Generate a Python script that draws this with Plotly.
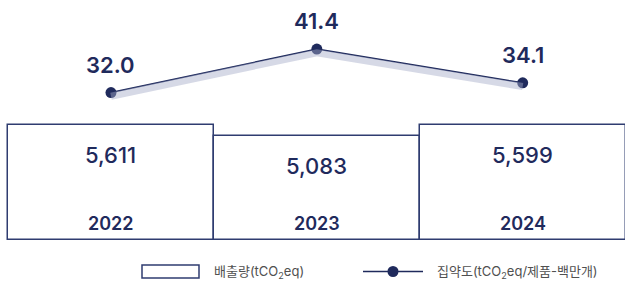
import plotly.graph_objects as go

years = ["2022", "2023", "2024"]
emissions = [5611, 5083, 5599]
intensity = [32.0, 41.4, 34.1]
emission_labels = ["5,611", "5,083", "5,599"]
intensity_labels = ["32.0", "41.4", "34.1"]
legend_bar = "배출량(tCO<sub>2</sub>eq)"
legend_line = "집약도(tCO<sub>2</sub>eq/제품-백만개)"

W, H = 625, 283
ML, MR, MT, MB = 6, 0, 0, 43
PW, PH = W - ML - MR, H - MT - MB

NAVY = "#1f2a5c"
OUTLINE = "#2f3c70"
FONT = "Inter, Noto Sans CJK KR, sans-serif"

def px_x(p):
    return (p - ML) / PW

def px_y(p):
    return (H - MB - p) / PH

fig = go.Figure()
fig.add_trace(go.Bar(
    x=years, y=emissions, marker=dict(color="white", line=dict(color=OUTLINE, width=1.5)),
    showlegend=False, hoverinfo="skip"))
# soft shadow band under the line
fig.add_trace(go.Scatter(
    x=years, y=intensity, yaxis="y3", mode="lines",
    line=dict(color="rgba(165,170,200,0.45)", width=7), showlegend=False, hoverinfo="skip"))
fig.add_trace(go.Scatter(
    x=years, y=intensity, yaxis="y2", mode="lines+markers",
    line=dict(color=NAVY, width=1.5), marker=dict(color=NAVY, size=11),
    showlegend=False))

ann = []
for i, (v, t) in enumerate(zip(intensity, intensity_labels)):
    ann.append(dict(x=i, y=v, xref="x", yref="y2", text=t, showarrow=False,
                    yshift=28, font=dict(family=FONT, size=22, color=NAVY, weight=600)))
for i, (v, t) in enumerate(zip(emissions, emission_labels)):
    ann.append(dict(x=i, y=v, xref="x", yref="y", text=t, showarrow=False, yshift=-30,
                    font=dict(family=FONT, size=22, color=NAVY, weight=500)))
for i, yr in enumerate(years):
    ann.append(dict(x=i, y=0, xref="x", yref="y", text=yr, showarrow=False,
                    yshift=16.5, font=dict(family=FONT, size=18, color=NAVY, weight=600)))
ann.append(dict(x=px_x(212), y=px_y(271.5), xref="paper", yref="paper", text=legend_bar,
                showarrow=False, xanchor="left", yanchor="middle",
                font=dict(family=FONT, size=13, color="#505050")))
ann.append(dict(x=px_x(435), y=px_y(271.5), xref="paper", yref="paper", text=legend_line,
                showarrow=False, xanchor="left", yanchor="middle",
                font=dict(family=FONT, size=13, color="#505050")))

shapes = [
    dict(type="rect", xref="paper", yref="paper", x0=px_x(142), x1=px_x(199),
         y0=px_y(265), y1=px_y(278), line=dict(color=OUTLINE, width=1.5), fillcolor="white"),
    dict(type="line", xref="paper", yref="paper", x0=px_x(363), x1=px_x(423),
         y0=px_y(271.5), y1=px_y(271.5), line=dict(color=NAVY, width=1.5)),
    dict(type="circle", xref="paper", yref="paper", x0=px_x(387.5), x1=px_x(398.5),
         y0=px_y(266), y1=px_y(277), line=dict(color=NAVY, width=0), fillcolor=NAVY),
]

hidden = dict(showticklabels=False, showgrid=False, zeroline=False, showline=False, ticks="")
fig.update_layout(
    width=W, height=H, margin=dict(l=ML, r=MR, t=MT, b=MB),
    paper_bgcolor="white", plot_bgcolor="white", bargap=0,
    xaxis=dict(type="category", range=[-0.51, 2.497], **hidden),
    yaxis=dict(range=[0, 11710], **hidden),
    yaxis2=dict(range=[0.13, 52.0], overlaying="y", **hidden),
    yaxis3=dict(range=[0.13 + 0.8, 52.0 + 0.8], overlaying="y", **hidden),
    annotations=ann, shapes=shapes, showlegend=False,
)
fig.write_html("out.html", config={"displayModeBar": False},
               post_script="document.body.style.margin='0px';")
